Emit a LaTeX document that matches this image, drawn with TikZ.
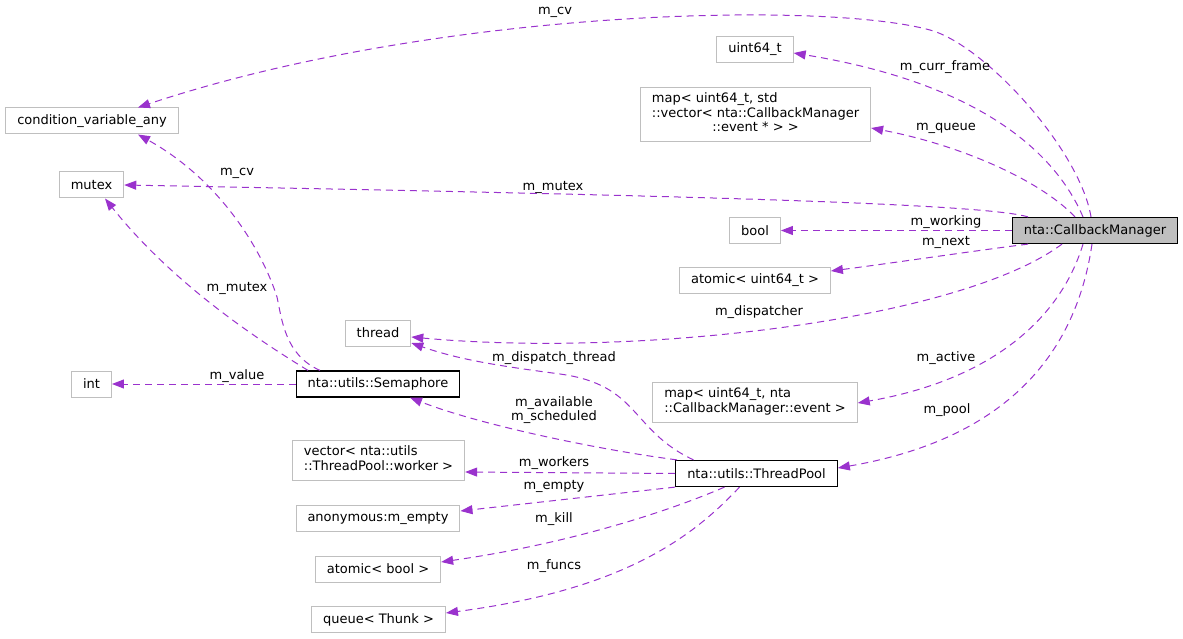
\documentclass[tikz,border=0pt]{standalone}
\usepackage{fontspec}
\setmainfont{DejaVu Sans}
\usetikzlibrary{arrows.meta}
\definecolor{edgecol}{HTML}{9A32CD}
\definecolor{boxgray}{HTML}{BFBFBF}

\begin{document}
\begin{tikzpicture}[x=1pt,y=-1pt,
		font=\fontsize{13}{14.5}\selectfont,
		box/.style={draw=boxgray, line width=1pt, fill=white, minimum height=26pt, inner xsep=11.5pt, inner ysep=5.5pt},
		cls/.style={box, draw=black, line width=1.2pt},
		edge/.style={edgecol, line width=1pt, dash pattern=on 7pt off 5pt, -{Triangle[length=12pt,width=9pt]}},
		lbl/.style={inner sep=0pt, text height=9.5pt, text depth=3pt}]
		\useasboundingbox (0,0) rectangle (1183,639);
		\node (cbm) [cls, fill=boxgray] at (1095,230.5) {nta::CallbackManager};
		\node (cva) [box] at (92,121) {condition\_variable\_any};
		\node (mtx) [box] at (91.5,185) {mutex};
		\node (u64) [box] at (755,49.5) {uint64\_t};
		\node (mapq) [box] at (755.5,114.5) {\begin{tabular}{@{}l@{}}map< uint64\_t, std\\::vector< nta::CallbackManager\\\multicolumn{1}{@{}c@{}}{::event * > >}\end{tabular}};
		\node (bool) [box] at (755,230.5) {bool};
		\node (au64) [box] at (755,280) {atomic< uint64\_t >};
		\node (thrd) [box] at (378,333) {thread};
		\node (intn) [box] at (91.5,384) {int};
		\node (sem) [cls] at (378,384) {nta::utils::Semaphore};
		\node (mapa) [box] at (755,402) {\begin{tabular}{@{}l@{}}map< uint64\_t, nta\\::CallbackManager::event >\end{tabular}};
		\node (tp) [cls] at (756.5,473.5) {nta::utils::ThreadPool};
		\node (vec) [box] at (378.5,460) {\begin{tabular}{@{}l@{}}vector< nta::utils\\::ThreadPool::worker >\end{tabular}};
		\node (anon) [box] at (378,518.5) {anonymous:m\_empty};
		\node (ab) [box] at (378,569) {atomic< bool >};
		\node (que) [box] at (378.5,619.5) {queue< Thunk >};
		\draw[edge] ([xshift=-4pt]cbm.north) .. controls (1080,150) and (985,45) .. (930,30) .. controls (820,0) and (430,10) .. ([xshift=46pt]cva.north);
		\draw[edge] ([xshift=-12pt]cbm.north) .. controls (1050,140) and (960,80) .. ([yshift=-3.5pt]u64.east);
		\draw[edge] ([xshift=-20pt]cbm.north) .. controls (1040,180) and (960,145) .. ([yshift=-13.5pt]mapq.east);
		\draw[edge] ([xshift=-67pt]cbm.north) .. controls (980,202) and (600,194) .. (mtx.east);
		\draw[edge] (cbm.west) -- (bool.east);
		\draw[edge] ([xshift=-67pt]cbm.south) .. controls (980,250) and (900,262) .. ([yshift=9pt]au64.east);
		\draw[edge] ([xshift=-33pt]cbm.south) .. controls (960,320) and (640,358) .. ([yshift=-4pt]thrd.east);
		\draw[edge] ([xshift=-12pt]cbm.south) .. controls (1060,320) and (990,380) .. ([yshift=-1pt]mapa.east);
		\draw[edge] ([xshift=-3pt]cbm.south) .. controls (1075,360) and (1000,440) .. ([yshift=5.5pt]tp.east);
		\draw[edge] ([xshift=-63pt]tp.north) .. controls (630,430) and (640,385) .. (560,374) .. controls (500,366) and (460,360) .. ([yshift=-10pt]thrd.east);
		\draw[edge] ([xshift=2pt]tp.north west) .. controls (600,450) and (480,425) .. ([xshift=32pt]sem.south);
		\draw[edge] (tp.west) -- ([yshift=-12pt]vec.east);
		\draw[edge] (tp.south west) -- ([yshift=7.5pt]anon.east);
		\draw[edge] ([xshift=-32pt]tp.south) .. controls (660,515) and (560,545) .. ([yshift=7pt]ab.east);
		\draw[edge] ([xshift=-17pt]tp.south) .. controls (690,540) and (620,590) .. ([yshift=6.5pt]que.east);
		\draw[edge] ([xshift=-58pt]sem.north) .. controls (285,355) and (282,320) .. (277,297) .. controls (262,250) and (220,180) .. ([xshift=46pt]cva.south);
		\draw[edge] ([xshift=-70pt]sem.north) .. controls (250,335) and (170,280) .. ([xshift=13.5pt]mtx.south);
		\draw[edge] (sem.west) -- (intn.east);
		\node (l_cv) [lbl] at (555,11) {m\_cv};
		\node (l_frame) [lbl] at (945,67) {m\_curr\_frame};
		\node (l_queue) [lbl] at (946,127) {m\_queue};
		\node (l_mutex) [lbl] at (553,187) {m\_mutex};
		\node (l_working) [lbl] at (946,222) {m\_working};
		\node (l_next) [lbl] at (946,242) {m\_next};
		\node (l_disp) [lbl] at (759,312) {m\_dispatcher};
		\node (l_active) [lbl] at (946,358) {m\_active};
		\node (l_pool) [lbl] at (947,410) {m\_pool};
		\node (l_dthread) [lbl] at (554,358) {m\_dispatch\_thread};
		\node (l_avail) [inner sep=0pt, align=center] at (554,410) {m\_available\\m\_scheduled};
		\node (l_workers) [lbl] at (554,463) {m\_workers};
		\node (l_empty) [lbl] at (554,486) {m\_empty};
		\node (l_kill) [lbl] at (554,519) {m\_kill};
		\node (l_funcs) [lbl] at (554,566) {m\_funcs};
		\node (l_scv) [lbl] at (237,172) {m\_cv};
		\node (l_smutex) [lbl] at (237,288) {m\_mutex};
		\node (l_value) [lbl] at (237,376) {m\_value};
\end{tikzpicture}
\end{document}
